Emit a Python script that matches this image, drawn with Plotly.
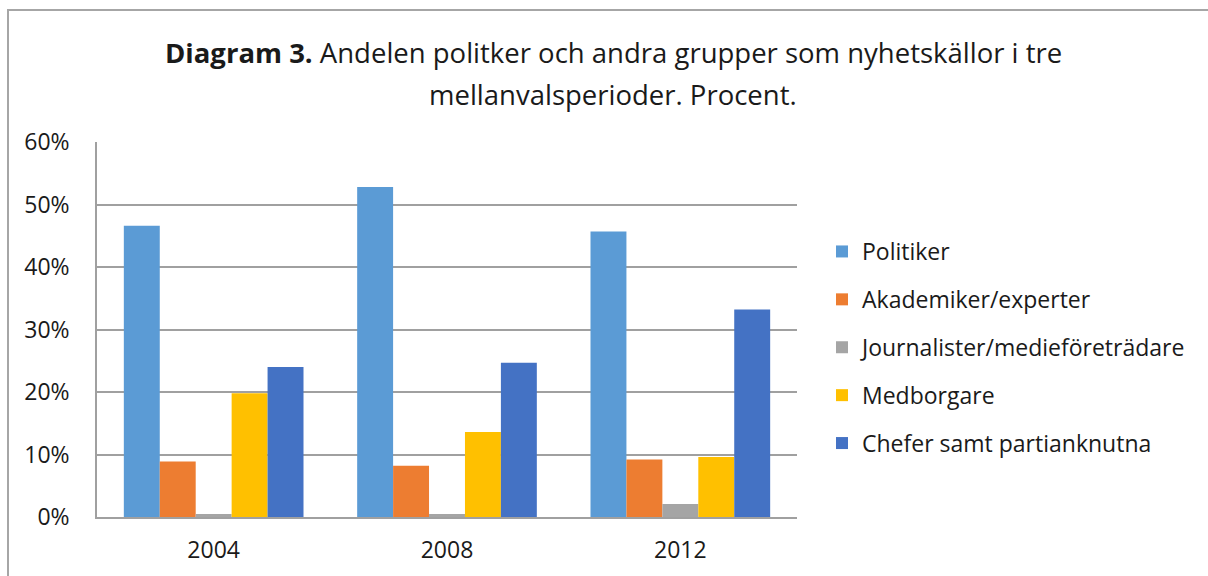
import plotly.graph_objects as go

years = ["2004", "2008", "2012"]
series_names = ["Politiker", "Akademiker/experter", "Journalister/medieföreträdare",
                "Medborgare", "Chefer samt partianknutna"]
politiker = [0.466, 0.528, 0.457]
akademiker = [0.089, 0.082, 0.092]
journalister = [0.005, 0.005, 0.021]
medborgare = [0.198, 0.136, 0.096]
chefer = [0.240, 0.247, 0.332]
colors = ["#5B9BD5", "#ED7D31", "#A5A5A5", "#FFC000", "#4472C4"]
y_ticks = [0, 0.1, 0.2, 0.3, 0.4, 0.5, 0.6]
title_line1 = "<b>Diagram 3.</b> Andelen politker och andra grupper som nyhetskällor i tre"
title_line2 = "mellanvalsperioder. Procent."

values = [politiker, akademiker, journalister, medborgare, chefer]

FONT = "Open Sans"
TXT = "#1a1a1a"
OFF = 0  # body margin removed via post_script
fig = go.Figure()
for i, (name, vals) in enumerate(zip(series_names, values)):
    fig.add_trace(go.Bar(
        x=years, y=vals, name=name, legendgroup=name,
        marker=dict(color=colors[i], line=dict(width=0)),
    ))

W, H = 1208, 576
L, R, T, B = 97 - OFF, 797 - OFF, 142 - OFF, 517 - OFF


def px_x(p):
    return (p - OFF - L) / (R - L)


def px_y(p):
    return (B - (p - OFF)) / (B - T)


fig.update_layout(
    width=W, height=H,
    margin=dict(l=L, r=W - R, t=T, b=H - B),
    paper_bgcolor="white", plot_bgcolor="white",
    barmode="group", bargap=0.23, bargroupgap=0,
    font=dict(family=FONT, size=23, color=TXT),
    showlegend=True,
    legend=dict(
        x=px_x(822), xanchor="left",
        y=px_y(230), yanchor="top",
        font=dict(family=FONT, size=23, color=TXT),
        tracegroupgap=15, traceorder="grouped",
        itemwidth=30, bgcolor="rgba(0,0,0,0)",
    ),
    xaxis=dict(
        showgrid=False, showline=True, linecolor="#a0a0a0", linewidth=1.5,
        ticks="", ticklabelstandoff=12,
        tickfont=dict(family=FONT, size=23, color=TXT),
    ),
    yaxis=dict(
        range=[0, 0.6], tickvals=y_ticks, tickformat=".0%",
        showgrid=True, gridcolor="#a0a0a0", gridwidth=1.5,
        showline=True, linecolor="#a0a0a0", linewidth=1.5,
        zeroline=False, ticks="", ticklabelstandoff=21,
        tickfont=dict(family=FONT, size=23, color=TXT),
    ),
    annotations=[
        dict(text=title_line1, xref="paper", yref="paper", x=px_x(613), y=px_y(52),
             xanchor="center", yanchor="middle", showarrow=False,
             font=dict(family=FONT, size=27.5, color=TXT)),
        dict(text=title_line2, xref="paper", yref="paper", x=px_x(613), y=px_y(94),
             xanchor="center", yanchor="middle", showarrow=False,
             font=dict(family=FONT, size=27.5, color=TXT)),
    ],
    shapes=[dict(
        type="rect", xref="paper", yref="paper",
        x0=px_x(8), x1=px_x(1260),
        y0=px_y(640), y1=px_y(10),
        line=dict(color="#a6a6a6", width=2), fillcolor="rgba(0,0,0,0)",
        layer="below",
    )],
)

fig.write_html("out.html",
               config={"displayModeBar": False},
               post_script="document.body.style.margin='0';document.body.style.overflow='hidden';")
